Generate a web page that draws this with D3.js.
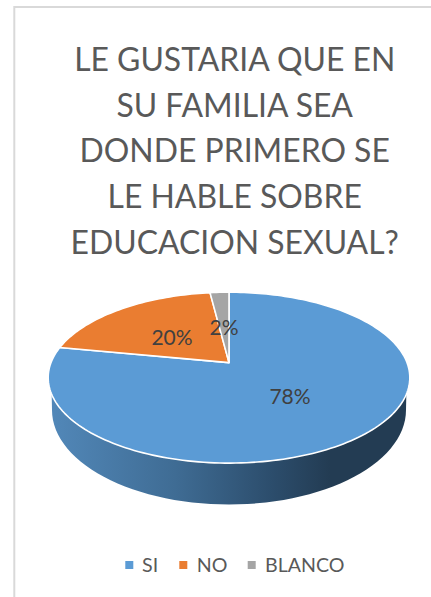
<!DOCTYPE html>
<html><head><meta charset="utf-8">
<script src="https://cdnjs.cloudflare.com/ajax/libs/d3/7.8.5/d3.min.js"></script>
<style>html,body{margin:0;padding:0;background:#fff}svg{display:block}text{font-family:Lato,"Open Sans",sans-serif}</style>
</head><body><svg id="c" width="431" height="597"></svg>
<script>
const categories = ["SI","NO","BLANCO"];
const values = [78,20,2];
const labels = ["78%","20%","2%"];
const colors = ["#5b9bd5","#ea7d31","#a5a5a5"];
const titleLines = ["LE GUSTARIA QUE EN","SU FAMILIA SEA","DONDE PRIMERO SE","LE HABLE SOBRE","EDUCACION SEXUAL?"];

const svg = d3.select("#c");
svg.append("rect").attr("x",14.3).attr("y",7).attr("width",430).attr("height",600).attr("fill","#fff").attr("stroke","#d9d9d9").attr("stroke-width",2);

// title
svg.append("g").selectAll("text").data(titleLines).join("text")
  .attr("x",234.7).attr("y",(d,i)=>70.7+i*45.8).attr("text-anchor","middle")
  .attr("font-size",31.9).attr("fill","#595959").text(d=>d);

// perspective pie
const cx=229, apexY=362.6, R=178, A=19, k=-0.176;
const proj=(ang)=>{const u=Math.sin(ang),v=-Math.cos(ang),w=1+k*v;return [cx+R*u/w,(A*v+apexY)/w];};
const pie=d3.pie().sort(null)(values);
const line=d3.line();
const slicePts=s=>{const n=Math.max(4,Math.ceil((s.endAngle-s.startAngle)*40));
  return d3.range(n+1).map(i=>proj(s.startAngle+(s.endAngle-s.startAngle)*i/n));};

// side wall
const defs=svg.append("defs");
const g=defs.append("linearGradient").attr("id","wall").attr("gradientUnits","userSpaceOnUse").attr("x1",49).attr("x2",409).attr("y1",0).attr("y2",0);
[[0,"#5288b9"],[0.35,"#3f6c94"],[0.62,"#2c4d6c"],[0.78,"#233c53"],[1,"#233c53"]].forEach(s=>g.append("stop").attr("offset",s[0]).attr("stop-color",s[1]));
const bx=229,by=410,brx=177,bry=94.5;
const wallTop=d3.range(0,61).map(i=>proj(Math.PI/2+Math.PI*i/60));
const wallBot=d3.range(0,61).map(i=>{const t=Math.PI*(1-i/60);return [bx+brx*Math.cos(t),by+bry*Math.sin(t)];});
svg.append("path").attr("d",line([...wallTop,...wallBot])+"Z").attr("fill","url(#wall)");

// slices
svg.append("g").selectAll("path").data(pie).join("path")
  .attr("d",s=>line([[cx,apexY],...slicePts(s)])+"Z")
  .attr("fill",(d,i)=>colors[i]).attr("stroke","#fff").attr("stroke-width",1.6).attr("stroke-linejoin","round");

// data labels
const lx=[290,172,224], ly=[397,338,328];
svg.append("g").selectAll("text").data(labels).join("text")
  .attr("x",(d,i)=>lx[i]).attr("y",(d,i)=>ly[i]+7).attr("text-anchor","middle")
  .attr("font-size",21).attr("fill","#404040").text(d=>d);

// legend
const sqX=[125.3,179.3,247.7], txtX=[142,196.7,265];
const lg=svg.append("g");
lg.selectAll("rect").data(categories).join("rect").attr("x",(d,i)=>sqX[i]).attr("y",561).attr("width",8).attr("height",8).attr("fill",(d,i)=>colors[i]);
lg.selectAll("text").data(categories).join("text").attr("x",(d,i)=>txtX[i]).attr("y",571.7).attr("font-size",19.6).attr("fill","#595959").text(d=>d);
</script></body></html>
